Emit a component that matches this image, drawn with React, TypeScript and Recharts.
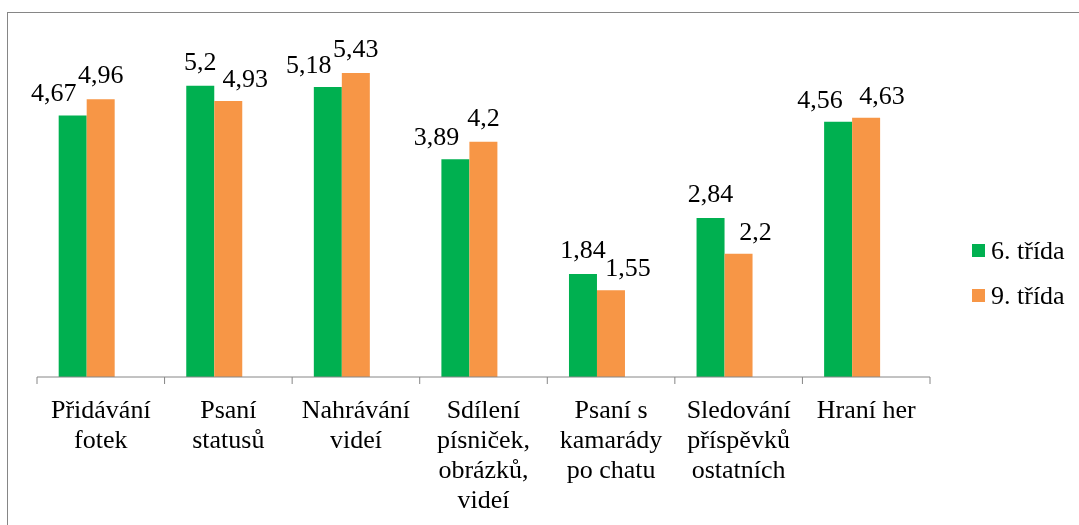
import { BarChart, Bar, XAxis, YAxis, LabelList, Legend } from "recharts";

const categories = [
  "Přidávání\nfotek",
  "Psaní\nstatusů",
  "Nahrávání\nvideí",
  "Sdílení\npísniček,\nobrázků,\nvideí",
  "Psaní s\nkamarády\npo chatu",
  "Sledování\npříspěvků\nostatních",
  "Hraní her",
];
const trida6 = [4.67, 5.2, 5.18, 3.89, 1.84, 2.84, 4.56];
const trida9 = [4.96, 4.93, 5.43, 4.2, 1.55, 2.2, 4.63];
// third (empty) series – keeps the pair shifted left like the original sheet
const spacer = [null, null, null, null, null, null, null];

const W = 1079;
const H = 525;
const M = { top: 41, right: 149, left: 37, bottom: 0 };
const X_AXIS_H = 148;
const AXIS_Y = H - X_AXIS_H;
const BAND = (W - M.left - M.right) / categories.length;
const FONT = "Liberation Serif";
const GREEN = "#00B050";
const ORANGE = "#F79646";
const GREY = "#868686";

const data = categories.map((name, i) => ({
  name,
  t6: trida6[i],
  t9: trida9[i],
  empty: spacer[i],
}));

const fmt = (v: number) => String(v).replace(".", ",");

// nudge the lower label away from its neighbour, like Excel did
function makeLabel(series: "t6" | "t9") {
  return (props: any) => {
    const { x, y, width, value, index } = props;
    if (value == null) return null;
    const a = trida6[index];
    const b = trida9[index];
    let dx = 0;
    if (Math.abs(a - b) < 0.1) dx = series === "t6" ? -18 : 16;
    else if (series === "t6" && a < b) dx = -19;
    else if (series === "t9" && b < a) dx = 17;
    return (
      <text
        x={x + width / 2 + dx}
        y={y - (dx !== 0 ? 14 : 16)}
        textAnchor="middle"
        fontSize={26}
        style={{ fontFamily: FONT }}
        fill="#000"
      >
        {fmt(value)}
      </text>
    );
  };
}

function CategoryTick(props: any) {
  const { x, payload, index } = props;
  const lines = String(payload.value).split("\n");
  const last = index === categories.length - 1;
  return (
    <g>
      <line x1={x - BAND / 2} x2={x - BAND / 2} y1={AXIS_Y} y2={AXIS_Y + 7} stroke={GREY} />
      {last && (
        <line x1={x + BAND / 2} x2={x + BAND / 2} y1={AXIS_Y} y2={AXIS_Y + 7} stroke={GREY} />
      )}
      <text textAnchor="middle" fontSize={26} style={{ fontFamily: FONT }} fill="#000">
        {lines.map((l, i) => (
          <tspan key={i} x={x} y={AXIS_Y + 41 + i * 30}>
            {l}
          </tspan>
        ))}
      </text>
    </g>
  );
}

function LegendBox() {
  const items = [
    { label: "6. třída", color: GREEN },
    { label: "9. třída", color: ORANGE },
  ];
  return (
    <div style={{ fontFamily: FONT, fontSize: 26, color: "#000" }}>
      {items.map((it) => (
        <div key={it.label} style={{ display: "flex", alignItems: "center", height: 45 }}>
          <span style={{ width: 13, height: 13, background: it.color, marginRight: 6 }} />
          <span>{it.label}</span>
        </div>
      ))}
    </div>
  );
}

export default function App() {
  return (
    <div style={{ height: H, fontFamily: FONT }}>
      <div
        style={{
          position: "fixed",
          left: 7,
          top: 12,
          width: 1200,
          height: 700,
          border: `1px solid ${GREY}`,
        }}
      />
      <div style={{ position: "fixed", left: 0, top: 0 }}>
        <BarChart
          width={W}
          height={H}
          data={data}
          margin={M}
          barCategoryGap="17%"
          barGap={0}
        >
          <XAxis
            dataKey="name"
            height={X_AXIS_H}
            interval={0}
            stroke={GREY}
            tickLine={false}
            tick={<CategoryTick />}
          />
          <YAxis hide domain={[0, 6]} />
          <Legend
            layout="vertical"
            align="center"
            verticalAlign="middle"
            content={<LegendBox />}
            wrapperStyle={{ left: 972, top: 228, width: 110 }}
          />
          <Bar dataKey="t6" name="6. třída" fill={GREEN} isAnimationActive={false}>
            <LabelList dataKey="t6" content={makeLabel("t6")} />
          </Bar>
          <Bar dataKey="t9" name="9. třída" fill={ORANGE} isAnimationActive={false}>
            <LabelList dataKey="t9" content={makeLabel("t9")} />
          </Bar>
          <Bar dataKey="empty" fill="none" legendType="none" isAnimationActive={false} />
        </BarChart>
      </div>
    </div>
  );
}
